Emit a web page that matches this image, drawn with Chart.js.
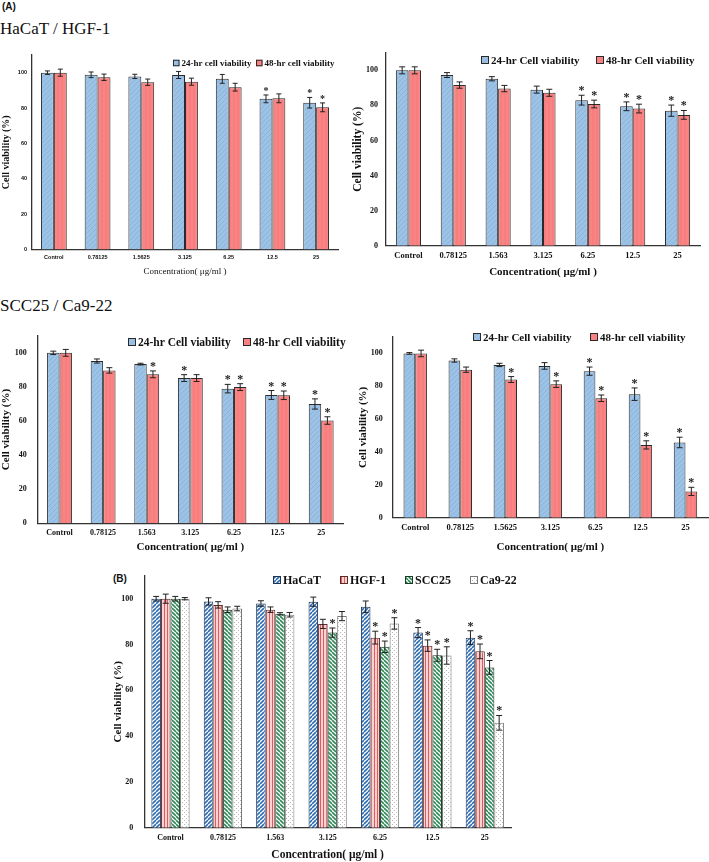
<!DOCTYPE html>
<html><head><meta charset="utf-8">
<script src="https://cdn.jsdelivr.net/npm/chart.js@4.4.1/dist/chart.umd.min.js"></script>
<style>
body{margin:0;background:#fff;width:709px;height:862px;position:relative;overflow:hidden}
canvas{position:absolute}
.lbl{position:absolute;white-space:nowrap;color:#111;line-height:1}
</style></head><body>
<div class="lbl" style="left:2px;top:1px;font:bold 10px 'Liberation Sans'">(A)</div>
<div class="lbl" style="left:0;top:19px;font:17px 'Liberation Serif'">HaCaT / HGF-1</div>
<div class="lbl" style="left:0;top:296px;font:17px 'Liberation Serif'">SCC25 / Ca9-22</div>
<div class="lbl" style="left:113px;top:573px;font:bold 10px 'Liberation Sans'">(B)</div>
<canvas id="c1"></canvas><canvas id="c2"></canvas><canvas id="c3"></canvas><canvas id="c4"></canvas><canvas id="c5"></canvas>
<script>
// ---------- data ----------
const categoriesA1 = ['Control','0.78125','1.5625','3.125','6.25','12.5','25'];
const categoriesA2 = ['Control','0.78125','1.563','3.125','6.25','12.5','25'];
const categoriesA3 = ['Control','0.78125','1.563','3.125','6.25','12.5','25'];
const categoriesA4 = ['Control','0.78125','1.5625','3.125','6.25','12.5','25'];
const categoriesB  = ['Control','0.78125','1.563','3.125','6.25','12.5','25'];

// HaCaT
const hacat24 = [100, 98.8, 97.9, 98.7, 96.5, 85.2, 83.0];
const hacat24Err = [1.0, 1.6, 1.2, 2.0, 2.5, 2.2, 3.0];
const hacat24Star = [0,0,0,0,0,1,1];
const hacat48 = [100, 97.4, 94.6, 94.9, 91.8, 85.5, 80.4];
const hacat48Err = [2.0, 1.8, 1.8, 2.0, 2.2, 2.5, 2.5];
const hacat48Star = [0,0,0,0,0,0,1];
// HGF-1
const hgf24 = [100, 97.3, 95.2, 89.0, 83.0, 79.5, 77.0];
const hgf24Err = [2.0, 1.4, 1.2, 2.0, 2.8, 2.5, 3.2];
const hgf24Star = [0,0,0,0,1,1,1];
const hgf48 = [100, 91.6, 89.6, 87.2, 80.8, 78.2, 74.6];
const hgf48Err = [2.0, 1.8, 1.8, 2.0, 2.2, 2.5, 2.5];
const hgf48Star = [0,0,0,0,1,1,1];
// SCC25
const scc24 = [100, 95.2, 93.4, 85.2, 79.0, 75.3, 70.0];
const scc24Err = [1.0, 1.2, 0.5, 2.0, 2.5, 2.6, 3.0];
const scc24Star = [0,0,0,1,1,1,1];
const scc48 = [100, 89.7, 87.4, 85.2, 79.9, 75.1, 60.3];
const scc48Err = [2.0, 1.6, 2.0, 2.0, 2.0, 2.5, 2.2];
const scc48Star = [0,0,1,0,1,1,1];
// Ca9-22
const ca24 = [100, 95.7, 93.0, 92.4, 89.2, 75.2, 45.8];
const ca24Err = [0.5, 1.0, 1.0, 2.0, 2.5, 3.8, 3.2];
const ca24Star = [0,0,0,0,1,1,1];
const ca48 = [100, 90.1, 84.1, 81.3, 72.7, 44.3, 16.0];
const ca48Err = [2.0, 1.6, 1.8, 2.0, 2.0, 2.5, 2.5];
const ca48Star = [0,0,1,1,1,1,1];

const yTicks = [0, 20, 40, 60, 80, 100];

// ---------- helpers ----------
function pattern(ctx, bg, fg, size, lw, dir) {
  const c = document.createElement('canvas'); c.width = c.height = size;
  const x = c.getContext('2d'); x.fillStyle = bg; x.fillRect(0,0,size,size);
  if (fg) {
    x.strokeStyle = fg; x.lineWidth = lw; x.beginPath();
    if (dir === 'v') { x.moveTo(size/2,0); x.lineTo(size/2,size); }
    else if (dir === '/') { for (let k=-1;k<=1;k++){ x.moveTo(k*size, size); x.lineTo(k*size+size, 0);} }
    else if (dir === '\\') { for (let k=-1;k<=1;k++){ x.moveTo(k*size,0); x.lineTo(k*size+size,size);} }
    else if (dir === 'dot') { x.fillStyle = fg; x.fillRect(0,0,1,1); x.fillRect(size/2,size/2,1,1); }
    x.stroke();
  }
  return ctx.createPattern(c, 'repeat');
}

const errStars = {
  id: 'errStars',
  afterDatasetsDraw(chart, args, o) {
    const ctx = chart.ctx, y = chart.scales.y;
    chart.data.datasets.forEach((ds, di) => {
      chart.getDatasetMeta(di).data.forEach((bar, i) => {
        const v = ds.data[i], e = ds.errors[i];
        const top = y.getPixelForValue(v + e), bot = y.getPixelForValue(v - e);
        ctx.save();
        ctx.strokeStyle = '#222'; ctx.lineWidth = 1;
        ctx.beginPath();
        ctx.moveTo(bar.x, top); ctx.lineTo(bar.x, bot);
        ctx.moveTo(bar.x - o.cap, top); ctx.lineTo(bar.x + o.cap, top);
        ctx.moveTo(bar.x - o.cap, bot); ctx.lineTo(bar.x + o.cap, bot);
        ctx.stroke();
        if (ds.stars[i]) {
          ctx.fillStyle = '#222'; ctx.font = o.starFont;
          ctx.textAlign = 'center'; ctx.textBaseline = 'alphabetic';
          ctx.fillText('*', bar.x, top + o.starDy);
        }
        ctx.restore();
      });
    });
  }
};

const boxLegend = {
  id: 'boxLegend',
  afterDraw(chart, args, o) {
    const ctx = chart.ctx;
    chart.data.datasets.forEach((ds, i) => {
      const x = o.xs[i], y = o.y;
      ctx.save();
      ctx.fillStyle = ds.backgroundColor;
      ctx.fillRect(x, y - o.box/2, o.box, o.box);
      ctx.strokeStyle = ds.borderColor; ctx.lineWidth = 1;
      ctx.strokeRect(x + 0.5, y - o.box/2 + 0.5, o.box - 1, o.box - 1);
      ctx.fillStyle = '#111'; ctx.font = o.font;
      ctx.textAlign = 'left'; ctx.textBaseline = 'middle';
      ctx.fillText(ds.label, x + o.box + 2, y + 1);
      ctx.restore();
    });
  }
};

function makeChart(id, box, plot, labels, dsFn, f) {
  const cv = document.getElementById(id);
  cv.width = box.w; cv.height = box.h;
  cv.style.left = box.x + 'px'; cv.style.top = box.y + 'px';
  cv.style.width = box.w + 'px'; cv.style.height = box.h + 'px';
  const ctx = cv.getContext('2d');
  const datasets = dsFn(ctx);
  return new Chart(ctx, {
    type: 'bar',
    data: { labels, datasets },
    options: {
      responsive: false, animation: false, devicePixelRatio: 1,
      layout: { padding: { left: 0, top: plot.t - box.y, right: box.x + box.w - plot.r, bottom: 0 } },
      datasets: { bar: { categoryPercentage: f.cat, barPercentage: 1, borderSkipped: 'bottom' } },
      scales: {
        x: {
          grid: { display: false, drawTicks: false },
          border: { display: true, color: '#333', width: 1.3 },
          ticks: { autoSkip: false, maxRotation: 0, padding: f.xPad, color: '#111', font: f.xTickFont },
          title: { display: true, text: 'Concentration( μg/ml )', color: '#111', font: f.xTitleFont, padding: 0 },
          afterFit(s) { s.height = box.y + box.h - plot.b; }
        },
        y: {
          min: 0, max: 110,
          grid: { display: false, drawTicks: false },
          border: { display: true, color: '#333', width: 1.3 },
          afterBuildTicks(s) { s.ticks = yTicks.map(v => ({ value: v })); },
          ticks: { padding: f.yPad, color: '#111', font: f.yTickFont },
          title: { display: true, text: 'Cell viability (%)', color: '#111', font: f.yTitleFont, padding: 0 },
          afterFit(s) { s.width = plot.l - box.x; }
        }
      },
      plugins: {
        legend: { display: false }, tooltip: { enabled: false },
        errStars: { cap: f.cap, starFont: f.starFont, starDy: f.starDy },
        boxLegend: { xs: f.legXs.map(v => v - box.x), y: f.legY - box.y, box: f.legBox, font: f.legFont }
      }
    },
    plugins: [errStars, boxLegend]
  });
}

const serif = 'Liberation Serif', sans = 'Liberation Sans';
const blueA = ctx => pattern(ctx, '#9CC3E6', '#8AB4DE', 5, 1, '/');
const redA = ctx => pattern(ctx, '#FA8484', '#F27878', 4, 1, 'v');

function pairDS(l1, d1, e1, s1, l2, d2, e2, s2) {
  return ctx => [
    { label: l1, data: d1, errors: e1, stars: s1, backgroundColor: blueA(ctx), borderColor: '#2a2a2a', borderWidth: 1 },
    { label: l2, data: d2, errors: e2, stars: s2, backgroundColor: redA(ctx), borderColor: '#2a2a2a', borderWidth: 1 }
  ];
}

// Chart 1: HaCaT
makeChart('c1', {x:0, y:40, w:345, h:237}, {l:32, t:55, r:338, b:249.5}, categoriesA1,
  pairDS('24-hr cell viability', hacat24, hacat24Err, hacat24Star, '48-hr cell viability', hacat48, hacat48Err, hacat48Star),
  { cat: 0.59, xPad: 5, yPad: 5,
    xTickFont: {family: sans, size: 5.5, weight: 'bold'}, yTickFont: {family: sans, size: 5.5, weight: 'bold'},
    xTitleFont: {family: serif, size: 9}, yTitleFont: {family: serif, size: 10, weight: 'bold'},
    cap: 2.5, starFont: 'bold 10px ' + serif, starDy: -1,
    legXs: [173, 256], legY: 63, legBox: 6.5, legFont: 'bold 9px ' + serif });

// Chart 2: HGF-1
makeChart('c2', {x:351, y:40, w:358, h:239}, {l:386, t:50, r:700, b:245.7}, categoriesA2,
  pairDS('24-hr Cell viability', hgf24, hgf24Err, hgf24Star, '48-hr Cell viability', hgf48, hgf48Err, hgf48Star),
  { cat: 0.56, xPad: 5, yPad: 8,
    xTickFont: {family: serif, size: 8.5, weight: 'bold'}, yTickFont: {family: serif, size: 8, weight: 'bold'},
    xTitleFont: {family: serif, size: 11, weight: 'bold'}, yTitleFont: {family: serif, size: 11.5, weight: 'bold'},
    cap: 3, starFont: 'bold 12px ' + serif, starDy: -1,
    legXs: [481, 596], legY: 60, legBox: 8, legFont: 'bold 11px ' + serif });

// Chart 3: SCC25
makeChart('c3', {x:0, y:320, w:350, h:234}, {l:37.7, t:332, r:343, b:523.3}, categoriesA3,
  pairDS('24-hr Cell viability', scc24, scc24Err, scc24Star, '48-hr Cell viability', scc48, scc48Err, scc48Star),
  { cat: 0.57, xPad: 5, yPad: 11,
    xTickFont: {family: serif, size: 8, weight: 'bold'}, yTickFont: {family: serif, size: 8, weight: 'bold'},
    xTitleFont: {family: serif, size: 11, weight: 'bold'}, yTitleFont: {family: serif, size: 11, weight: 'bold'},
    cap: 3, starFont: 'bold 12px ' + serif, starDy: -1,
    legXs: [128, 243], legY: 342, legBox: 8, legFont: 'bold 11.5px ' + serif });

// Chart 4: Ca9-22
makeChart('c4', {x:357, y:320, w:352, h:234}, {l:392.7, t:337, r:708, b:517.7}, categoriesA4,
  pairDS('24-hr Cell viability', ca24, ca24Err, ca24Star, '48-hr cell viability', ca48, ca48Err, ca48Star),
  { cat: 0.52, xPad: 5, yPad: 10,
    xTickFont: {family: serif, size: 8.5, weight: 'bold'}, yTickFont: {family: serif, size: 8, weight: 'bold'},
    xTitleFont: {family: serif, size: 11, weight: 'bold'}, yTitleFont: {family: serif, size: 11, weight: 'bold'},
    cap: 3, starFont: 'bold 12px ' + serif, starDy: -1,
    legXs: [473, 590], legY: 337, legBox: 8, legFont: 'bold 11px ' + serif });

// Chart B: all cell lines, 24 h
makeChart('c5', {x:112, y:560, w:404, h:302}, {l:144.3, t:574, r:511, b:827.7}, categoriesB,
  ctx => [
    { label: 'HaCaT', data: hacat24, errors: hacat24Err, stars: hacat24Star, backgroundColor: pattern(ctx, '#FFFFFF', '#2E6DB4', 4, 1.6, '/'), borderColor: '#1f3550', borderWidth: 1 },
    { label: 'HGF-1', data: hgf24, errors: hgf24Err, stars: hgf24Star, backgroundColor: pattern(ctx, '#FBE0E0', '#E05C5C', 3, 1.2, 'v'), borderColor: '#5a2a2a', borderWidth: 1 },
    { label: 'SCC25', data: scc24, errors: scc24Err, stars: scc24Star, backgroundColor: pattern(ctx, '#FFFFFF', '#2E8B57', 4, 1.6, '\\'), borderColor: '#1f3a2a', borderWidth: 1 },
    { label: 'Ca9-22', data: ca24, errors: ca24Err, stars: ca24Star, backgroundColor: pattern(ctx, '#FFFFFF', '#B8B8B8', 4, 1, 'dot'), borderColor: '#777777', borderWidth: 1 }
  ],
  { cat: 0.73, xPad: 5.5, yPad: 11,
    xTickFont: {family: serif, size: 8, weight: 'bold'}, yTickFont: {family: serif, size: 8, weight: 'bold'},
    xTitleFont: {family: serif, size: 11.5, weight: 'bold'}, yTitleFont: {family: serif, size: 11, weight: 'bold'},
    cap: 3, starFont: 'bold 12px ' + serif, starDy: -1,
    legXs: [273, 340, 405, 470], legY: 580, legBox: 8, legFont: 'bold 12px ' + serif });
</script>
</body></html>
